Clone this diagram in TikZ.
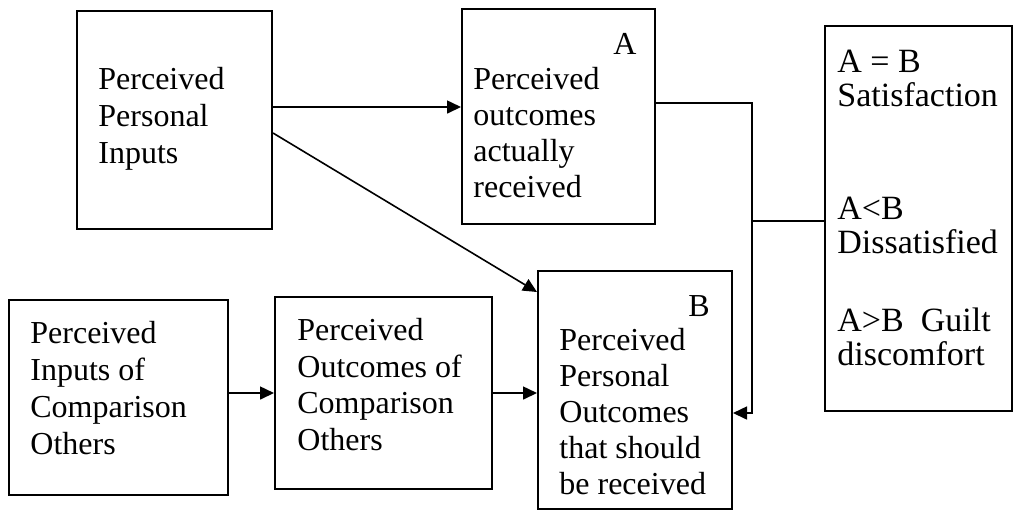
\documentclass[tikz,border=0pt]{standalone}
\usepackage{fontspec}
\setmainfont{Liberation Serif}
\usetikzlibrary{arrows.meta,calc}
\begin{document}
\begin{tikzpicture}[x=0.5pt,y=-0.5pt,
  box/.style={draw, line width=1pt, inner sep=0pt},
  txt/.style={anchor=north west, inner sep=0pt, align=left, font=\fontsize{16}{18.5}\selectfont},
  rtxt/.style={anchor=north west, inner sep=0pt, align=left, font=\fontsize{17}{17}\selectfont},
  lbl/.style={anchor=north west, inner sep=0pt, font=\fontsize{16}{18.5}\selectfont},
  conn/.style={line width=0.8pt},
  arr/.style={line width=0.8pt, -{Triangle[length=7pt,width=6.5pt]}}]
\useasboundingbox (0,0) rectangle (1015,511);
% boxes
\node[box, minimum width=97.5pt, minimum height=109pt] (p1) at (174.5,120) {};
\node[box, minimum width=96.5pt, minimum height=107.5pt] (a) at (558.5,116.5) {};
\node[box, minimum width=93.5pt, minimum height=192.5pt] (r) at (918.5,218.5) {};
\node[box, minimum width=109.5pt, minimum height=97.5pt] (c) at (118.5,397.5) {};
\node[box, minimum width=108.5pt, minimum height=96pt] (d) at (383.5,393) {};
\node[box, minimum width=97pt, minimum height=119pt] (b) at (635,390) {};
% texts
\node[txt] (t1) at (98,67) {Perceived\\Personal\\Inputs};
\node[lbl] (la) at (613,33) {A};
\node[txt, font=\fontsize{16}{18}\selectfont] (ta) at (473,67) {Perceived\\outcomes\\actually\\received};
\node[rtxt] (r1) at (837,50) {A = B\\Satisfaction};
\node[rtxt] (r2) at (837,197) {A<B\\Dissatisfied};
\node[rtxt] (r3) at (837,307) {A>B\ \ Guilt\\discomfort};
\node[txt] (tc) at (30,321) {Perceived\\Inputs of\\Comparison\\Others};
\node[txt, font=\fontsize{16}{18.3}\selectfont] (td) at (297,318) {Perceived\\Outcomes of\\Comparison\\Others};
\node[lbl] (lb) at (688,295) {B};
\node[txt, font=\fontsize{16}{18}\selectfont] (tb) at (559,328) {Perceived\\Personal\\Outcomes\\that should\\be received};
% connectors
\coordinate (p1out) at ($(p1.east)+(0,-13)$);
\coordinate (p1diag) at ($(p1.east)+(0,13)$);
\coordinate (aout) at ($(a.east)+(0,-13.5)$);
\coordinate (bin) at ($(b.east)+(0,23)$);
\coordinate (j) at (752,221);
\draw[arr] (p1out) -- (a.west |- p1out);
\draw[arr] (p1diag) -- ($(b.north west)+(0,22)$);
\draw[arr] (aout) -| (j) |- (bin);
\draw[conn] (j) -- (r.west |- j);
\draw[arr] (c.east |- d.west) -- (d.west);
\draw[arr] (d.east) -- (b.west |- d.east);
\end{tikzpicture}
\end{document}
